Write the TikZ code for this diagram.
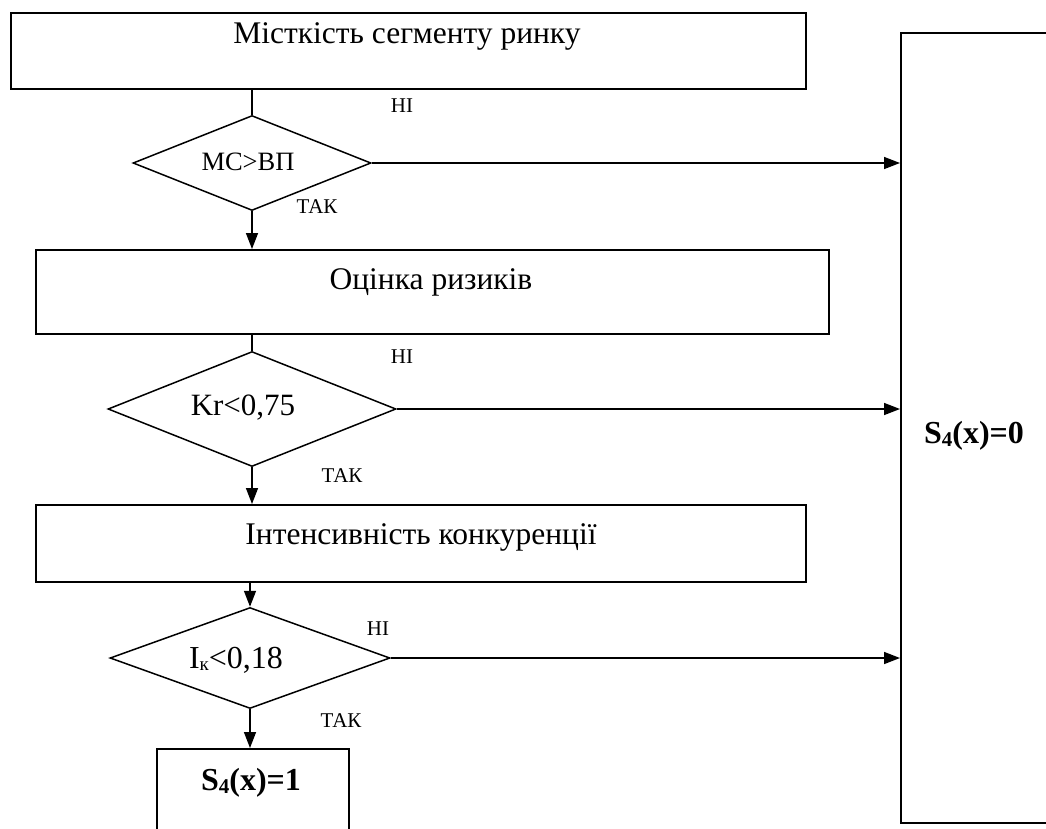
\documentclass[tikz,border=0pt]{standalone}
\usepackage{fontspec}
\setmainfont{Liberation Serif}
\usetikzlibrary{shapes.geometric,arrows.meta}
\begin{document}
\begin{tikzpicture}[x=1pt,y=-1pt,
  box/.style={draw,line width=1.5pt,rectangle,inner sep=0pt,anchor=north west},
  dia/.style={draw,line width=1.5pt,diamond,aspect=2.5,inner sep=0pt},
  txt/.style={anchor=base,inner sep=0pt,font=\fontsize{31.5}{34}\selectfont},
  lbl/.style={anchor=base,inner sep=0pt,font=\fontsize{21}{23}\selectfont},
  link/.style={line width=1.5pt},
  arr/.style={line width=1.5pt,-{Triangle[length=16pt,width=12pt]}}]
\useasboundingbox (0,0) rectangle (1046,828);
\clip (0,0) rectangle (1046,828);
\fill[white] (0,0) rectangle (1046,828);
% shapes
\node[box,minimum width=795pt,minimum height=76pt] (b1) at (10,12) {};
\node[dia,minimum width=238pt,minimum height=95pt] (d1) at (252,163) {};
\node[box,minimum width=793pt,minimum height=84pt] (b2) at (35,249) {};
\node[dia,minimum width=288pt,minimum height=115pt] (d2) at (252,409) {};
\node[box,minimum width=770pt,minimum height=77pt] (b3) at (35,504) {};
\node[dia,minimum width=280pt,minimum height=101pt] (d3) at (250,658) {};
\node[box,minimum width=192pt,minimum height=120pt] (b4) at (156,748) {};
\node[box,minimum width=300pt,minimum height=790pt] (r) at (900,32) {};
% texts
\node[txt] (t1) at (407,43) {Місткість сегменту ринку};
\node[txt] (t2) at (431,289) {Оцінка ризиків};
\node[txt] (t3) at (421,544) {Інтенсивність конкуренції};
\node[anchor=base,inner sep=0pt,font=\fontsize{26.5}{29}\selectfont] (q1) at (248,170) {МС>ВП};
\node[txt,font=\fontsize{31}{33}\selectfont] (q2) at (243,415) {Kr<0,75};
\node[txt,font=\fontsize{32}{34}\selectfont] (q3) at (236,668) {I\raisebox{-2pt}{\fontsize{19}{19}\selectfont к}<0,18};
\node[txt,font=\fontsize{32}{34}\selectfont\bfseries] (s1) at (251,790) {S\raisebox{-3pt}{\fontsize{21}{21}\selectfont 4}(x)=1};
\node[txt,font=\fontsize{32}{34}\selectfont\bfseries] (s0) at (974,443) {S\raisebox{-3pt}{\fontsize{21}{21}\selectfont 4}(x)=0};
\node[lbl] (n1) at (402,112) {НІ};
\node[lbl] (n2) at (402,363) {НІ};
\node[lbl] (n3) at (378,635) {НІ};
\node[lbl] (y1) at (317,213) {ТАК};
\node[lbl] (y2) at (342,482) {ТАК};
\node[lbl] (y3) at (341,727) {ТАК};
% connectors
\draw[link] (d1.north |- b1.south) -- (d1.north);
\draw[arr] (d1.south) -- (d1.south |- b2.north);
\draw[link] (d2.north |- b2.south) -- (d2.north);
\draw[arr] (d2.south) -- (d2.south |- b3.north);
\draw[arr] (d3.north |- b3.south) -- (d3.north);
\draw[arr] (d3.south) -- (d3.south |- b4.north);
\draw[arr] (d1.east) -- (d1.east -| r.west);
\draw[arr] (d2.east) -- (d2.east -| r.west);
\draw[arr] (d3.east) -- (d3.east -| r.west);
\end{tikzpicture}
\end{document}
